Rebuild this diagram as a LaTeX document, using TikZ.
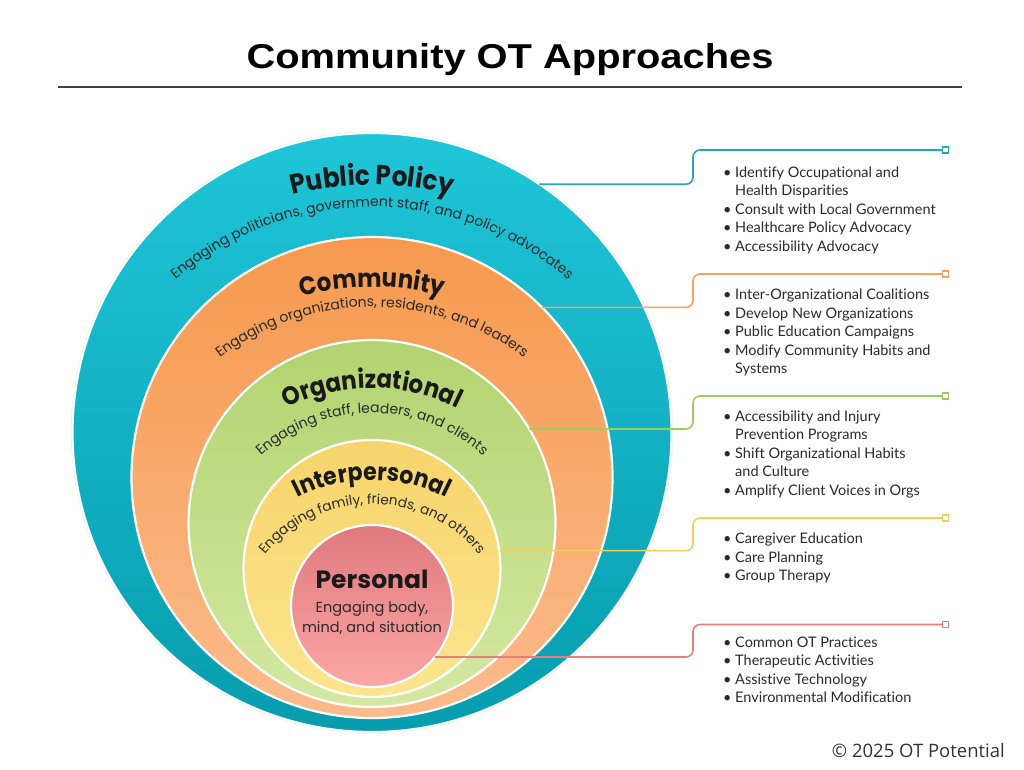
\documentclass[tikz,border=0pt]{standalone}
\usepackage{fontspec}
\setmainfont{Lato}[Ligatures=NoCommon]
\newfontfamily\hfont{Poppins}
\newfontfamily\hcfont{Poppins}[FakeStretch=0.9]
\newfontfamily\tfont{Liberation Sans}[FakeStretch=1.155]
\newfontfamily\cfont{Open Sans}
\usetikzlibrary{decorations.text,calc}
\definecolor{tealT}{HTML}{1FC5D8}
\definecolor{tealB}{HTML}{079DAE}
\definecolor{orT}{HTML}{F6994E}
\definecolor{orB}{HTML}{FCBB8C}
\definecolor{grT}{HTML}{B2D36F}
\definecolor{grB}{HTML}{D5E8A2}
\definecolor{yeT}{HTML}{F7D46B}
\definecolor{yeB}{HTML}{FBE58F}
\definecolor{reT}{HTML}{DF797E}
\definecolor{reB}{HTML}{FCA6A5}
\definecolor{tealL}{HTML}{20A9BA}
\definecolor{orL}{HTML}{F7A263}
\definecolor{grL}{HTML}{9ECB5E}
\definecolor{yeL}{HTML}{F4CF55}
\definecolor{reL}{HTML}{EB7B7D}
\definecolor{ink}{HTML}{1A1A1A}
\definecolor{txt}{HTML}{2A2A2A}
\definecolor{halo}{HTML}{D3F0F4}
\newcommand\blitem[1]{\hbox{\makebox[12pt][l]{\textbullet}#1}}
\newcommand\blcont[1]{\hbox{\hspace*{12pt}#1}}
\tikzset{
  ring/.style={circle, inner sep=0pt, outer sep=0pt, draw=white, line width=2.2pt},
  conn/.style={line width=1.6pt, rounded corners=7pt},
  endsq/.style={rectangle, draw, fill=white, line width=1.4pt, minimum size=6pt, inner sep=0pt},
  blist/.style={anchor=base west, inner sep=0pt, text=txt, font=\fontsize{14.5}{18.5}\selectfont},
}
\begin{document}
\begin{tikzpicture}[x=1pt,y=1pt]
\useasboundingbox (0,0) rectangle (1024,-769);
\fill[white] (0,0) rectangle (1024,-769);
% title
\node[font=\tfont\bfseries\fontsize{34.5}{34.5}\selectfont, anchor=base, text=black, inner sep=0pt] (title) at (510,-68) {Community OT Approaches};
\coordinate (r1) at (58,-87);
\coordinate (r2) at (962,-87);
\draw[black!75, line width=1.4pt] (r1) -- (r2);
% circles
\draw[halo, line width=1pt] (372,-432.5) circle (300.5);
\node[ring, minimum size=599pt, top color=tealT, bottom color=tealB] (pp) at (372,-432.5) {};
\node[ring, minimum size=481pt, top color=orT, bottom color=orB] (co) at (372,-477.5) {};
\node[ring, minimum size=367pt, top color=grT, bottom color=grB] (og) at (372,-523.5) {};
\node[ring, minimum size=257pt, top color=yeT, bottom color=yeB] (ip) at (372,-568.5) {};
\node[ring, minimum size=162pt, top color=reT, bottom color=reB] (pe) at (372,-606) {};
% curved labels
\path[decorate, decoration={text along path, text align=center, text={|\hcfont\bfseries\fontsize{27.5}{27.5}\selectfont\color{ink}|Public Policy}}]
  ($(372,-509)+(160:324)$) arc[start angle=160, end angle=20, radius=324];
\path[decorate, decoration={text along path, text align=center, text={|\hfont\fontsize{14}{14}\selectfont\color{txt}|Engaging politicians, government staff, and policy advocates}}]
  ($(372,-509)+(150:302)$) arc[start angle=150, end angle=30, radius=302];
\path[decorate, decoration={text along path, text align=center, text={|\hcfont\bfseries\fontsize{25.5}{25.5}\selectfont\color{ink}|Community}}]
  ($(372,-560)+(160:273)$) arc[start angle=160, end angle=20, radius=273];
\path[decorate, decoration={text along path, text align=center, text={|\hfont\fontsize{14}{14}\selectfont\color{txt}|Engaging organizations, residents, and leaders}}]
  ($(372,-560)+(160:253)$) arc[start angle=160, end angle=20, radius=253];
\path[decorate, decoration={text along path, text align=center, text={|\hcfont\bfseries\fontsize{25.5}{25.5}\selectfont\color{ink}|Organizational}}]
  ($(372,-578)+(170:190)$) arc[start angle=170, end angle=10, radius=190];
\path[decorate, decoration={text along path, text align=center, text={|\hfont\fontsize{14}{14}\selectfont\color{txt}|Engaging staff, leaders, and clients}}]
  ($(372,-578)+(170:165)$) arc[start angle=170, end angle=10, radius=165];
\path[decorate, decoration={text along path, text align=center, text={|\hcfont\bfseries\fontsize{24.5}{24.5}\selectfont\color{ink}|Interpersonal}}]
  ($(372,-643)+(175:163)$) arc[start angle=175, end angle=5, radius=163];
\path[decorate, decoration={text along path, text align=center, text={|\hfont\fontsize{13.7}{13.7}\selectfont\color{txt}|Engaging family, friends, and others}}]
  ($(372,-643)+(175:139)$) arc[start angle=175, end angle=5, radius=139];
% personal
\node[font=\hfont\bfseries\fontsize{25}{25}\selectfont, anchor=base, text=ink, inner sep=0pt] (perT) at (372,-588) {Personal};
\node[font=\hfont\fontsize{14.5}{14.5}\selectfont, anchor=base, text=txt, inner sep=0pt] (perS1) at (372,-612) {Engaging body,};
\node[font=\hfont\fontsize{14.5}{14.5}\selectfont, anchor=base, text=txt, inner sep=0pt] (perS2) at (372,-632) {mind, and situation};
% connectors
\node[endsq, draw=tealL] (e1) at (945.5,-150) {};
\node[endsq, draw=orL] (e2) at (945.5,-274) {};
\node[endsq, draw=grL] (e3) at (945.5,-396) {};
\node[endsq, draw=yeL] (e4) at (945.5,-518) {};
\node[endsq, draw=reL] (e5) at (945.5,-624.5) {};
\coordinate (k1) at (693,-150);
\coordinate (k2) at (693,-274);
\coordinate (k3) at (693,-396);
\coordinate (k4) at (693,-518);
\coordinate (k5) at (693,-624.5);
\draw[conn, tealL] (pp.56.4) -| (k1) -- (e1);
\draw[conn, orL] (co.45.5) -| (k2) -- (e2);
\draw[conn, grL] (og.31.4) -| (k3) -- (e3);
\draw[conn, yeL] (ip.8.3) -| (k4) -- (e4);
\draw[conn, reL] (pe.-39) -| (k5) -- (e5);
% bullet lists
\node[blist] (l1) at (723,-177) {\vtop{\baselineskip=18.5pt
  \blitem{Identify Occupational and}\blcont{Health Disparities}\blitem{Consult with Local Government}\blitem{Healthcare Policy Advocacy}\blitem{Accessibility Advocacy}}};
\node[blist] (l2) at (723,-299.5) {\vtop{\baselineskip=18.5pt
  \blitem{Inter-Organizational Coalitions}\blitem{Develop New Organizations}\blitem{Public Education Campaigns}\blitem{Modify Community Habits and}\blcont{Systems}}};
\node[blist] (l3) at (723,-421) {\vtop{\baselineskip=18.5pt
  \blitem{Accessibility and Injury}\blcont{Prevention Programs}\blitem{Shift Organizational Habits}\blcont{and Culture}\blitem{Amplify Client Voices in Orgs}}};
\node[blist] (l4) at (723,-543.5) {\vtop{\baselineskip=18.5pt
  \blitem{Caregiver Education}\blitem{Care Planning}\blitem{Group Therapy}}};
\node[blist] (l5) at (723,-647) {\vtop{\baselineskip=18.5pt
  \blitem{Common OT Practices}\blitem{Therapeutic Activities}\blitem{Assistive Technology}\blitem{Environmental Modification}}};
% copyright
\node[font=\cfont\fontsize{18.5}{18.5}\selectfont, anchor=base east, text=black!80, inner sep=0pt] (copy) at (1005,-757) {© 2025 OT Potential};
\end{tikzpicture}
\end{document}
